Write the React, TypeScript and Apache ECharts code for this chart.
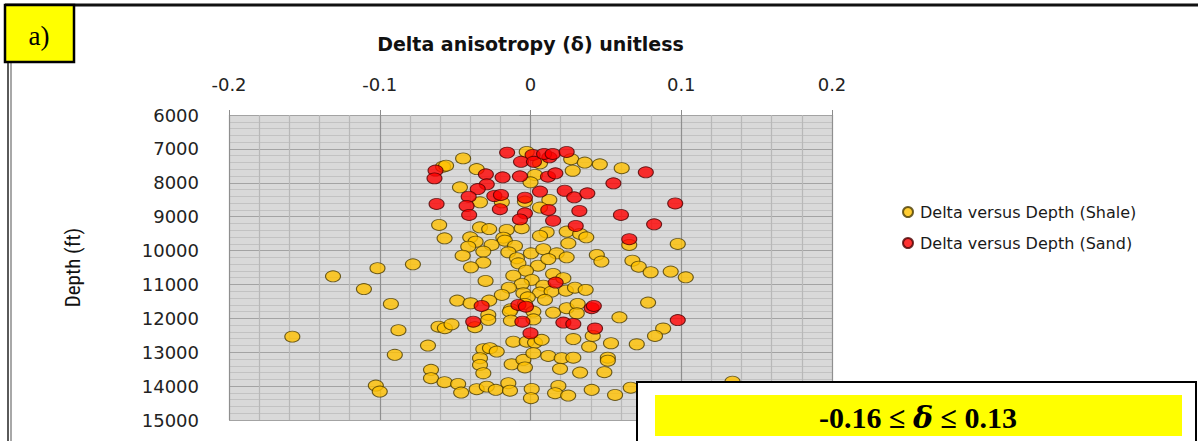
import React, { useEffect, useRef } from "react";
import * as echarts from "echarts";

// Delta anisotropy (unitless) against depth (ft)
const shalePoints: [number, number][] = [
  [-0.0025, 7090], [-0.0447, 7280], [-0.058, 7525], [-0.056, 7495], [-0.0357, 7595],
  [0.0063, 7425], [0.027, 7305], [0.036, 7405], [0.046, 7455], [0.0605, 7570],
  [0.028, 7645], [0.003, 7770], [0.0, 7985], [-0.0468, 8135], [-0.0335, 8575],
  [-0.019, 8575], [-0.0037, 8555], [0.0125, 8505], [0.0063, 8730], [-0.0606, 9245],
  [-0.0335, 9315], [-0.0274, 9365], [-0.0158, 9390], [-0.0058, 9340], [0.0107, 9460],
  [0.024, 9440], [0.0329, 9510], [-0.057, 9640], [-0.04, 9610], [-0.018, 9620],
  [-0.017, 9710], [0.0063, 9570], [0.037, 9610], [-0.0364, 9740], [-0.0413, 9885],
  [-0.0258, 9835], [-0.0103, 9865], [0.0251, 9785], [0.044, 10130], [0.047, 10325],
  [0.0655, 9835], [0.0977, 9805], [-0.078, 10405], [-0.045, 10150], [-0.0313, 10030],
  [-0.0147, 10050], [0.0003, 10080], [0.0085, 9960], [0.0174, 10080], [0.024, 10200],
  [-0.009, 10225], [-0.0313, 10355], [-0.0395, 10495], [-0.008, 10375], [0.005, 10445],
  [0.0118, 10250], [0.0676, 10300], [0.0718, 10475], [0.0797, 10640], [0.093, 10620],
  [0.103, 10790], [-0.003, 10595], [-0.0298, 10895], [-0.0114, 10740], [0.015, 10690],
  [0.0008, 10865], [-0.0058, 10985], [0.0218, 10815], [0.0085, 11035], [-0.0143, 11095],
  [-0.019, 11310], [-0.0047, 11260], [0.0063, 11240], [0.014, 11210], [0.0235, 11185],
  [0.0295, 11095], [0.0366, 11160], [0.0096, 11455], [-0.0018, 11380], [-0.0486, 11475],
  [-0.0397, 11555], [-0.0274, 11475], [-0.013, 11730], [-0.0037, 11575], [0.0019, 11800],
  [0.015, 11830], [0.024, 11700], [0.0313, 11575], [0.0307, 11850], [0.078, 11535],
  [0.059, 11970], [-0.028, 11900], [-0.0137, 11800], [-0.028, 12045], [-0.013, 12070],
  [0.002, 12030], [-0.061, 12245], [-0.0568, 12290], [-0.0524, 12175], [-0.0368, 12260],
  [0.088, 12300], [-0.0876, 12350], [-0.0114, 12690], [-0.0025, 12690], [0.003, 12715],
  [0.0074, 12635], [0.0284, 12610], [0.0389, 12835], [0.0413, 12520], [0.0534, 12735],
  [0.0705, 12765], [0.0826, 12520], [-0.068, 12805], [-0.09, 13075], [-0.0313, 12910],
  [-0.0269, 12880], [-0.0224, 12980], [-0.0335, 13175], [-0.0335, 13375], [-0.0313, 13620],
  [-0.0125, 13355], [-0.0047, 13225], [-0.0037, 13450], [0.0019, 13030], [0.0118, 13110],
  [0.0207, 13175], [0.0284, 13160], [0.0196, 13490], [0.0329, 13600], [0.049, 13590],
  [0.0513, 13160], [0.0513, 13250], [-0.066, 13520], [-0.066, 13765], [-0.057, 13885],
  [-0.048, 13935], [-0.046, 14190], [-0.0357, 14090], [-0.029, 14015], [-0.023, 14110],
  [-0.0147, 13915], [-0.0136, 14135], [0.0008, 14085], [0.0003, 14355], [0.0185, 13995],
  [0.0163, 14210], [0.025, 14280], [0.0406, 14110], [0.0561, 14260], [0.0665, 14045],
  [0.134, 13870], [-0.1015, 10520], [-0.131, 10760], [-0.1105, 11135], [-0.0926, 11575],
  [-0.158, 12540], [-0.1026, 13985], [-0.1, 14160],
];

const sandPoints: [number, number][] = [
  [-0.0155, 7110], [0.0014, 7180], [-0.0063, 7380], [0.0023, 7380], [0.0125, 7250],
  [0.009, 7150], [0.0147, 7150], [0.024, 7090], [-0.063, 7640], [-0.0637, 7870],
  [-0.0296, 7750], [-0.0185, 7840], [-0.007, 7810], [0.0116, 7820], [0.0165, 7720],
  [0.0765, 7690], [0.055, 8015], [-0.029, 8045], [-0.035, 8185], [-0.041, 8410],
  [-0.024, 8390], [-0.0196, 8360], [-0.0037, 8440], [0.0063, 8260], [0.0227, 8235],
  [0.029, 8430], [0.0377, 8310], [-0.0623, 8625], [-0.0424, 8685], [-0.0407, 8950],
  [-0.0203, 8780], [0.0118, 8800], [-0.0037, 8900], [-0.007, 9080], [0.015, 9120],
  [0.0324, 8830], [0.06, 8950], [0.096, 8610], [0.082, 9225], [0.03, 9275],
  [0.0655, 9665], [0.0167, 10945], [-0.0324, 11635], [-0.008, 11605], [-0.003, 11655],
  [0.0406, 11700], [0.042, 11635], [-0.038, 12100], [-0.0054, 12100], [0.0218, 12125],
  [0.0284, 12165], [0.0428, 12300], [0.0977, 12050], [0.0, 12440],
];

const deltaRange = { min: -0.2, max: 0.2, interval: 0.1 };
const depthRange = { min: 6000, max: 15000, interval: 1000 };

const seriesNames = ["Delta versus Depth (Shale)", "Delta versus Depth (Sand)"];
const rangeLabel = { low: "-0.16", high: "0.13" };

const tickFont = '"DejaVu Sans", "Liberation Sans", sans-serif';

export default function App() {
  const ref = useRef<HTMLDivElement>(null);

  useEffect(() => {
    if (!ref.current) return;
    const chart = echarts.init(ref.current, undefined, { renderer: "svg" });
    chart.setOption({
      animation: false,
      backgroundColor: "#ffffff",
      grid: {
        left: 229,
        right: 366,
        top: 115,
        bottom: 21,
        show: true,
        backgroundColor: "#D9D9D9",
        borderWidth: 0,
      },
      legend: {
        orient: "vertical",
        left: 897,
        top: 199,
        itemWidth: 14,
        itemHeight: 10,
        itemGap: 15,
        icon: "circle",
        textStyle: { fontFamily: tickFont, fontSize: 16, color: "#1a1a1a" },
        data: seriesNames,
      },
      xAxis: {
        type: "value",
        position: "top",
        min: deltaRange.min,
        max: deltaRange.max,
        interval: deltaRange.interval,
        name: "Delta anisotropy (\u03b4) unitless",
        nameLocation: "middle",
        nameGap: 62,
        nameTextStyle: {
          fontFamily: tickFont,
          fontWeight: "bold",
          fontSize: 19,
          color: "#111",
        },
        axisLine: { show: false },
        axisTick: { show: true, inside: false, length: 5, lineStyle: { color: "#8c8c8c" } },
        axisLabel: {
          margin: 22,
          fontFamily: tickFont,
          fontSize: 18,
          color: "#222",
          formatter: (v: number) => String(v),
        },
        splitLine: { show: true, lineStyle: { color: "#8f8f8f", width: 1.2 } },
        minorTick: { show: false, splitNumber: 5 },
        minorSplitLine: { show: true, lineStyle: { color: "#b8b8b8", width: 1.2 } },
      },
      yAxis: {
        type: "value",
        inverse: true,
        min: depthRange.min,
        max: depthRange.max,
        interval: depthRange.interval,
        name: "Depth (ft)",
        nameLocation: "middle",
        nameGap: 146,
        nameRotate: 90,
        nameTextStyle: {
          fontFamily: '"Liberation Sans Narrow", "Roboto Condensed", "Open Sans", sans-serif',
          fontSize: 21,
          color: "#111",
        },
        axisLine: { show: true, lineStyle: { color: "#8c8c8c" } },
        axisTick: { show: true, inside: false, length: 11, lineStyle: { color: "#8c8c8c" } },
        axisLabel: {
          margin: 30,
          fontFamily: tickFont,
          fontSize: 18,
          color: "#222",
          formatter: (v: number) => String(v),
        },
        splitLine: { show: true, lineStyle: { color: "#a3a3a3", width: 1.2 } },
        minorTick: { show: false, splitNumber: 5 },
        minorSplitLine: { show: true, lineStyle: { color: "#c2c2c2", width: 1 } },
      },
      series: [
        {
          name: seriesNames[0],
          type: "scatter",
          symbol: "circle",
          symbolSize: [15, 11],
          data: shalePoints,
          itemStyle: { color: "#FFC000", borderColor: "#4a3b00", borderWidth: 1 },
          z: 2,
        },
        {
          name: seriesNames[1],
          type: "scatter",
          symbol: "circle",
          symbolSize: [15, 11],
          data: sandPoints,
          itemStyle: { color: "#FF0000", borderColor: "#4a0000", borderWidth: 1 },
          z: 3,
        },
      ],
      graphic: [
        {
          type: "line",
          z: 50,
          shape: { x1: 5, y1: 5, x2: 1198, y2: 5 },
          style: { stroke: "#111", lineWidth: 3 },
        },
        {
          type: "line",
          z: 50,
          shape: { x1: 8, y1: 60, x2: 8, y2: 441 },
          style: { stroke: "#5a5a5a", lineWidth: 2 },
        },
        {
          type: "line",
          z: 50,
          shape: { x1: 11, y1: 60, x2: 11, y2: 441 },
          style: { stroke: "#a8a8a8", lineWidth: 2 },
        },
        {
          type: "rect",
          z: 60,
          shape: { x: 5, y: 5, width: 69, height: 57 },
          style: { fill: "#FFFF00", stroke: "#000", lineWidth: 2.5 },
        },
        {
          type: "text",
          z: 61,
          x: 39,
          y: 36,
          style: {
            text: "a)",
            font: '27px "Liberation Serif", "Times New Roman", serif',
            fill: "#000",
            align: "center",
            verticalAlign: "middle",
          },
        },
        {
          type: "rect",
          z: 60,
          shape: { x: 637, y: 382, width: 559, height: 62 },
          style: { fill: "#ffffff", stroke: "#000", lineWidth: 2 },
        },
        {
          type: "rect",
          z: 61,
          shape: { x: 655, y: 395, width: 527, height: 41 },
          style: { fill: "#FFFF00" },
        },
        {
          type: "text",
          z: 62,
          x: 918,
          y: 417,
          style: {
            text: `{n|${rangeLabel.low} \u2264 }{d|\u03b4}{n| \u2264 ${rangeLabel.high}}`,
            align: "center",
            verticalAlign: "middle",
            rich: {
              n: {
                fontFamily: '"Liberation Serif", "Times New Roman", serif',
                fontWeight: "bold",
                fontSize: 30,
                fill: "#000",
              },
              d: {
                fontFamily: '"DejaVu Serif", "Liberation Serif", serif',
                fontWeight: "bold",
                fontStyle: "italic",
                fontSize: 30,
                fill: "#000",
              },
            },
          },
        },
      ],
    });
    return () => chart.dispose();
  }, []);

  return (
    <div
      ref={ref}
      style={{ position: "absolute", left: 0, top: 0, width: 1198, height: 441 }}
    />
  );
}
